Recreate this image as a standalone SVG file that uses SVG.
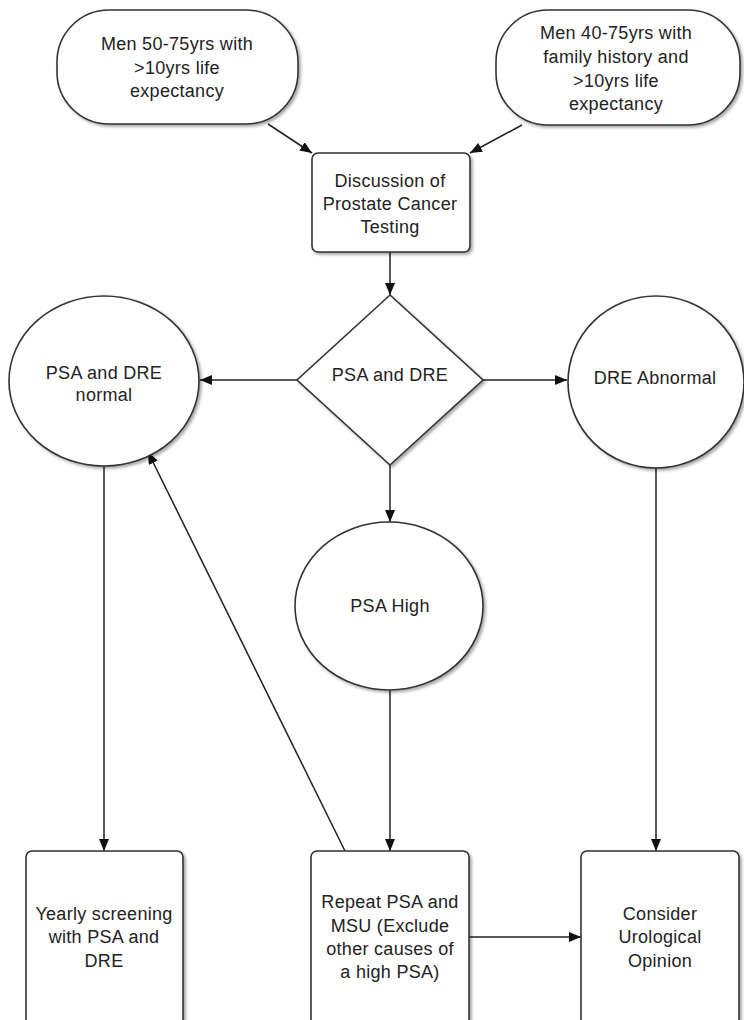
<svg xmlns="http://www.w3.org/2000/svg" width="744" height="1020" viewBox="0 0 744 1020">
<style>
.shape{fill:#fff;stroke:#333;stroke-width:1.6;filter:url(#sh)}
.t{font-family:"Liberation Sans",Arial,sans-serif;font-size:18px;letter-spacing:0.3px;fill:#222;text-anchor:middle}
.c{stroke:#222;stroke-width:1.5;fill:none;marker-end:url(#ah)}
</style>
<defs>
<filter id="sh" x="-10%" y="-10%" width="125%" height="125%">
<feDropShadow dx="2" dy="2" stdDeviation="1.5" flood-color="#000" flood-opacity="0.35"/>
</filter>
<marker id="ah" viewBox="0 0 12 10" refX="12" refY="5" markerWidth="12" markerHeight="10" markerUnits="userSpaceOnUse" orient="auto">
<path d="M0,0 L12,5 L0,10 Z" fill="#111"/>
</marker>
</defs>
<g id="connectors">
<line class="c" x1="268" y1="124" x2="312" y2="153"/>
<line class="c" x1="522" y1="125" x2="470" y2="153"/>
<line class="c" x1="390" y1="252" x2="390" y2="295"/>
<line class="c" x1="297" y1="380" x2="200" y2="380"/>
<line class="c" x1="483" y1="380" x2="567" y2="380"/>
<line class="c" x1="390" y1="465" x2="390" y2="522"/>
<line class="c" x1="104" y1="466" x2="104" y2="851"/>
<line class="c" x1="656" y1="468" x2="656" y2="851"/>
<line class="c" x1="390" y1="690" x2="390" y2="851"/>
<line class="c" x1="345" y1="851" x2="148" y2="452"/>
<line class="c" x1="469" y1="937" x2="581" y2="937"/>
</g>
<g id="n1">
<rect class="shape" x="57" y="10" width="241" height="114" rx="52" ry="52"/>
<text class="t" x="177" y="50">Men 50-75yrs with</text>
<text class="t" x="177" y="74">&gt;10yrs life</text>
<text class="t" x="177" y="97">expectancy</text>
</g>
<g id="n2">
<rect class="shape" x="496" y="10" width="244" height="115" rx="52" ry="52"/>
<text class="t" x="616" y="39">Men 40-75yrs with</text>
<text class="t" x="616" y="63">family history and</text>
<text class="t" x="616" y="87">&gt;10yrs life</text>
<text class="t" x="616" y="110">expectancy</text>
</g>
<g id="n3">
<rect class="shape" x="312" y="153" width="158" height="99" rx="6" ry="6"/>
<text class="t" x="390" y="187">Discussion of</text>
<text class="t" x="390" y="210">Prostate Cancer</text>
<text class="t" x="390" y="233">Testing</text>
</g>
<g id="n4">
<polygon class="shape" points="390,295 483,380 390,465 297,380"/>
<text class="t" x="390" y="381">PSA and DRE</text>
</g>
<g id="n5">
<ellipse class="shape" cx="104" cy="381" rx="95" ry="85"/>
<text class="t" x="104" y="379">PSA and DRE</text>
<text class="t" x="104" y="401">normal</text>
</g>
<g id="n6">
<ellipse class="shape" cx="656" cy="382" rx="88" ry="86"/>
<text class="t" x="655" y="384">DRE Abnormal</text>
</g>
<g id="n7">
<ellipse class="shape" cx="389" cy="606" rx="94" ry="84"/>
<text class="t" x="390" y="612">PSA High</text>
</g>
<g id="n8">
<rect class="shape" x="26" y="851" width="157" height="180" rx="6" ry="6"/>
<text class="t" x="104" y="920">Yearly screening</text>
<text class="t" x="104" y="943">with PSA and</text>
<text class="t" x="104" y="967">DRE</text>
</g>
<g id="n9">
<rect class="shape" x="311" y="851" width="158" height="180" rx="6" ry="6"/>
<text class="t" x="390" y="908">Repeat PSA and</text>
<text class="t" x="390" y="932">MSU (Exclude</text>
<text class="t" x="390" y="955">other causes of</text>
<text class="t" x="390" y="978">a high PSA)</text>
</g>
<g id="n10">
<rect class="shape" x="581" y="851" width="158" height="180" rx="6" ry="6"/>
<text class="t" x="660" y="920">Consider</text>
<text class="t" x="660" y="943">Urological</text>
<text class="t" x="660" y="967">Opinion</text>
</g>
</svg>
